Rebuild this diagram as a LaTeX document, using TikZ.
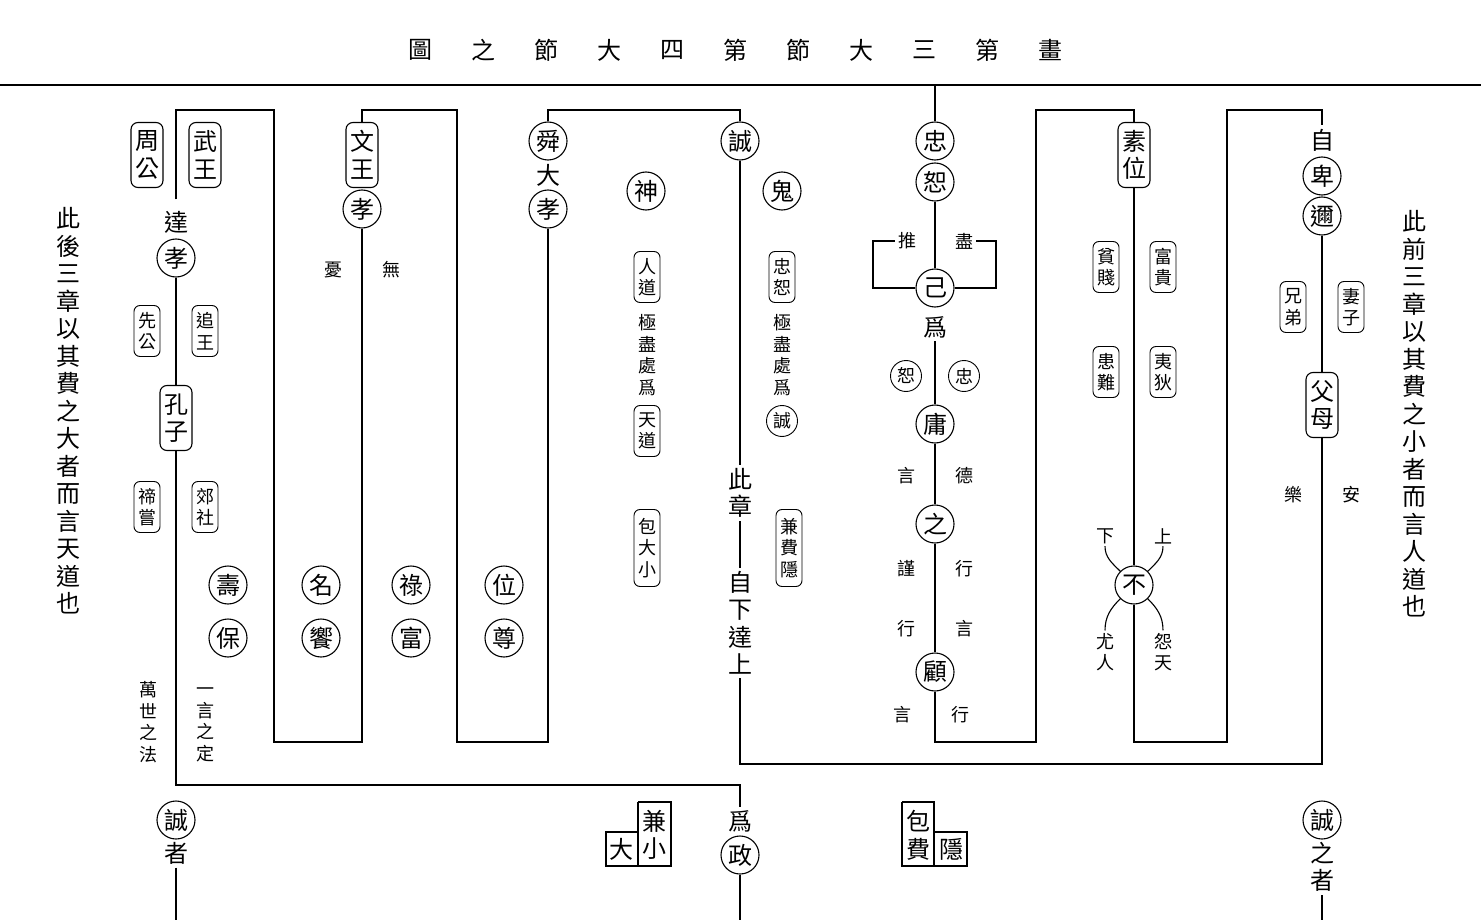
\documentclass[tikz,border=0pt]{standalone}
\usepackage{fontspec}
\setmainfont{Noto Sans CJK TC}
\newcommand\dazi{\fontsize{24}{27.5}\selectfont}
\newcommand\xiaozi{\fontsize{18}{21.5}\selectfont}
\tikzset{
  ring/.style={circle, draw, inner sep=0pt, minimum size=38pt, font=\dazi},
  sring/.style={circle, draw, line width=0.9pt, inner sep=0pt, minimum size=31pt, font=\xiaozi},
  tag/.style={draw, rounded corners=7pt, align=center, font=\dazi, inner sep=2pt, minimum width=32pt, minimum height=65pt},
  stag/.style={draw, line width=0.9pt, rounded corners=6pt, align=center, font=\xiaozi, inner sep=2pt, minimum width=26pt, minimum height=51pt},
  zi/.style={align=center, font=\dazi, inner sep=3pt},
  szi/.style={align=center, font=\xiaozi, inner sep=2pt},
}
\begin{document}
\begin{tikzpicture}[x=1pt,y=-1pt,line width=1.1pt]
    \useasboundingbox (0,0) rectangle (1481,920);

    % Title and rule
    \foreach \ch [count=\i from 0] in {圖,之,節,大,四,第,節,大,三,第,畫}
        \node[zi] (t\i) at (420+63*\i,50) {\ch};
    \draw (0,85) -- (1481,85);

    % Margin texts
    \node[zi] (houzhang) at (68,411) {此\\後\\三\\章\\以\\其\\費\\之\\大\\者\\而\\言\\天\\道\\也};
    \node[zi] (qianzhang) at (1414,414) {此\\前\\三\\章\\以\\其\\費\\之\\小\\者\\而\\言\\人\\道\\也};

    % Left column
    \node[tag] (zhougong) at (147,155) {周\\公};
    \node[tag] (wuwang) at (205,155) {武\\王};
    \node[zi] (da) at (176,222) {達};
    \node[ring] (xiao1) at (176,258) {孝};
    \node[stag] (xiangong) at (147,331) {先\\公};
    \node[stag] (zhuiwang) at (205,331) {追\\王};
    \node[tag] (kongzi) at (176,418) {孔\\子};
    \node[stag] (dichang) at (147,507) {禘\\嘗};
    \node[stag] (jiaoshe) at (205,507) {郊\\社};
    \node[szi] (wanshi) at (148,722) {萬\\世\\之\\法};
    \node[szi] (yiyan) at (205,725) {一\\言\\之\\定};
    \node[ring] (shou) at (228,585) {壽};
    \node[ring] (bao) at (228,638) {保};
    \node[ring] (ming) at (321,585) {名};
    \node[ring] (xiang) at (321,638) {饗};
    \node[ring] (lu) at (411,585) {祿};
    \node[ring] (fu) at (411,638) {富};
    \node[ring] (wei1) at (504,585) {位};
    \node[ring] (zun) at (504,638) {尊};

    \node[tag] (wenwang) at (362,155) {文\\王};
    \node[ring] (xiao2) at (362,209) {孝};
    \node[szi] (you) at (333,270) {憂};
    \node[szi] (wu) at (391,270) {無};
    \node[ring] (shun) at (548,141) {舜};
    \node[zi] (dazi) at (548,175) {大};
    \node[ring] (xiao3) at (548,209) {孝};

    % Cheng column
    \node[ring] (cheng1) at (740,141) {誠};
    \node[ring] (shen) at (646,191) {神};
    \node[ring] (gui) at (782,191) {鬼};
    \node[stag] (rendao) at (647,277) {人\\道};
    \node[szi] (jijin1) at (647,355) {極\\盡\\處\\爲};
    \node[stag] (tiandao) at (647,431) {天\\道};
    \node[stag, minimum height=77pt] (baodaxiao) at (647,548) {包\\大\\小};
    \node[stag] (zhongshu) at (782,277) {忠\\恕};
    \node[szi] (jijin2) at (782,355) {極\\盡\\處\\爲};
    \node[sring] (cheng2) at (782,421) {誠};
    \node[stag, minimum height=77pt] (jianfeiyin) at (789,548) {兼\\費\\隱};
    \node[zi] (cizhang) at (740,493) {此\\章};
    \node[zi] (zixia) at (740,623) {自\\下\\達\\上};

    % Centre column
    \node[ring] (zhong1) at (935,141) {忠};
    \node[ring] (shu1) at (935,182) {恕};
    \node[szi] (tui) at (907,241) {推};
    \node[szi] (jin) at (964,241) {盡};
    \node[ring] (ji) at (935,288) {己};
    \node[zi] (wei2) at (935,327) {爲};
    \node[sring] (shu2) at (906,376) {恕};
    \node[sring] (zhong2) at (964,376) {忠};
    \node[ring] (yong) at (935,424) {庸};
    \node[szi] (yan1) at (906,476) {言};
    \node[szi] (de) at (964,476) {德};
    \node[ring] (zhi) at (935,524) {之};
    \node[szi] (jin2) at (906,569) {謹};
    \node[szi] (xing1) at (964,569) {行};
    \node[szi] (xing2) at (906,629) {行};
    \node[szi] (yan2) at (964,629) {言};
    \node[ring] (gu) at (935,672) {顧};
    \node[szi] (yan3) at (902,715) {言};
    \node[szi] (xing3) at (960,715) {行};

    % Suwei column
    \node[tag] (suwei) at (1134,155) {素\\位};
    \node[stag] (pinjian) at (1106,267) {貧\\賤};
    \node[stag] (fugui) at (1163,267) {富\\貴};
    \node[stag] (huannan) at (1106,372) {患\\難};
    \node[stag] (yidi) at (1163,372) {夷\\狄};
    \node[ring] (bu) at (1134,585) {不};
    \node[szi] (xia) at (1105,536) {下};
    \node[szi] (shang) at (1163,536) {上};
    \node[szi] (youren) at (1105,652) {尤\\人};
    \node[szi] (yuantian) at (1163,652) {怨\\天};

    % Right column
    \node[zi] (zi) at (1322,140) {自};
    \node[ring] (bei) at (1322,176) {卑};
    \node[ring] (er) at (1322,216) {邇};
    \node[stag] (xiongdi) at (1293,307) {兄\\弟};
    \node[stag] (qizi) at (1351,307) {妻\\子};
    \node[tag] (fumu) at (1322,405) {父\\母};
    \node[szi] (le) at (1293,495) {樂};
    \node[szi] (an) at (1351,495) {安};

    % Bottom row
    \node[ring] (cheng3) at (176,820) {誠};
    \node[zi] (zhe1) at (176,853) {者};
    \node[zi] (jian) at (654,821) {兼};
    \node[zi] (da2) at (621,849) {大};
    \node[zi] (xiao4) at (654,849) {小};
    \node[zi] (wei3) at (740,821) {爲};
    \node[ring] (zheng) at (740,855) {政};
    \node[zi] (bao2) at (918,821) {包};
    \node[zi] (fei) at (918,849) {費};
    \node[zi] (yin) at (951,849) {隱};
    \node[ring] (cheng4) at (1322,820) {誠};
    \node[zi] (zhi2) at (1322,867) {之\\者};

    % Frames
    \draw (638,802) -| (671,866) -| (606,832) -| (638,802);
    \draw (638,832) -- (638,866);
    \draw (902,802) -| (934,832) -| (967,866) -| (902,802);
    \draw (934,832) -- (934,866);

    % Edges
    \draw ([yshift=8pt]da.north) |- (274,110) -- (274,742) -| (xiao2.south);
    \draw (xiao1.south) -- (kongzi.north);
    \draw (kongzi.south) |- (740,785) -- (wei3.north);
    \draw (wenwang.north) |- (457,110) -- (457,742) -| (xiao3.south);
    \draw (shun.north) |- (740,110) -- (cheng1.north);
    \draw (cheng1.south) -- (cizhang.north);
    \draw (cizhang.south) -- (zixia.north);
    \draw (zixia.south) |- (1322,764) -- (fumu.south);
    \draw (935,85) -- (zhong1.north);
    \draw (shu1.south) -- (ji.north);
    \draw (ji.west) -| (873,241) -- (tui.west);
    \draw (ji.east) -| (996,241) -- (jin.east);
    \draw (wei2.south) -- (yong.north);
    \draw (yong.south) -- (zhi.north);
    \draw (zhi.south) -- (gu.north);
    \draw (gu.south) |- (1036,742) |- (1134,110) -- (suwei.north);
    \draw (suwei.south) -- (bu.north);
    \draw (bu.south) |- (1227,742) |- (1322,110) -- (zi.north);
    \draw (er.south) -- (fumu.north);
    \draw (bu.135) to[out=135,in=-90] (xia.south);
    \draw (bu.45) to[out=45,in=-90] (shang.south);
    \draw (bu.-135) to[out=-135,in=90] (youren.north);
    \draw (bu.-45) to[out=-45,in=90] (yuantian.north);
    \draw (zhe1.south) -- (176,920);
    \draw (zheng.south) -- (740,920);
    \draw (zhi2.south) -- (1322,920);

\end{tikzpicture}
\end{document}
